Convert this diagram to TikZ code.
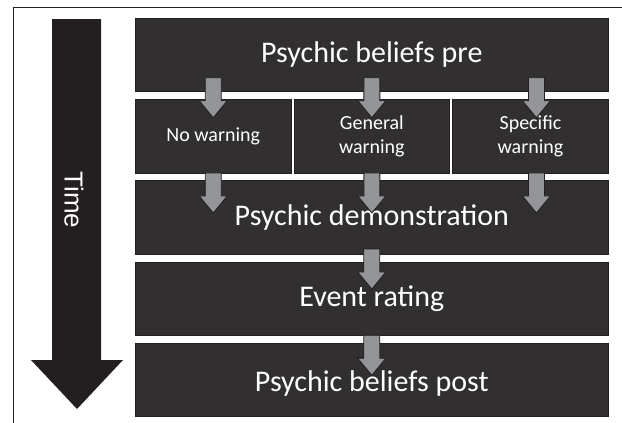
\documentclass[tikz,border=0pt]{standalone}
\usepackage{fontspec}
\setmainfont{Carlito}
\newfontfamily\timefont{Liberation Sans}
\usetikzlibrary{positioning}
\definecolor{boxfill}{RGB}{49,47,48}
\definecolor{boxline}{RGB}{35,31,32}
\definecolor{arrowgray}{RGB}{147,149,152}
\newcommand\garrow[1]{\draw[garrowstyle] #1 ++(-8,0) -- ++(0,23) -- ++(-6,0) -- ++(14,17) -- ++(14,-17) -- ++(-6,0) -- ++(0,-23) -- cycle;}

\begin{document}
\begin{tikzpicture}[x=1pt,y=-1pt,
    rowbox/.style={draw=boxline,fill=boxfill,line width=0.8pt,minimum width=473pt,minimum height=73.4pt,inner sep=0pt,outer sep=0pt,text=white,font=\fontsize{30}{36}\selectfont},
    subbox/.style={draw=boxline,fill=boxfill,line width=0.8pt,minimum width=155.9pt,minimum height=73.4pt,inner sep=0pt,outer sep=0pt,text=white,align=center,font=\fontsize{20}{24}\selectfont},
    garrowstyle/.style={draw=boxline,fill=arrowgray,line width=0.8pt}]
        \useasboundingbox (0,0) rectangle (622,423);
        % frame
        \draw[boxline,line width=0.9pt] (622,7) -- (13,7) -- (13,423);
        % time arrow
        \fill[boxline] (52,19) -- (101,19) -- (101,360) -- (123,360) -- (77,409) -- (31,360) -- (52,360) -- cycle;
        \node[text=white,rotate=-90,font=\timefont\fontsize{26}{30}\selectfont] (time) at (74,200) {Time};
        % stages
        \node[rowbox,anchor=north west] (pre) at (135.3,18.3) {Psychic beliefs pre};
        \node[subbox,below=7.85pt of pre.south west,anchor=north west] (nowarn) {No warning};
        \node[subbox,right=2.7pt of nowarn] (general) {General\\warning};
        \node[subbox,right=2.7pt of general] (specific) {Specific\\warning};
        \node[rowbox,below=7.85pt of nowarn.south west,anchor=north west] (demo) {Psychic demonstration};
        \node[rowbox,below=7.85pt of demo] (rating) {Event rating};
        \node[rowbox,below=7.85pt of rating,text height=28pt,text depth=5pt] (post) {Psychic beliefs post};
        % gray arrows
        \garrow{([yshift=14pt]pre.south -| nowarn.north)}
        \garrow{([yshift=14pt]pre.south -| general.north)}
        \garrow{([xshift=6pt,yshift=14pt]pre.south -| specific.north)}
        \garrow{(nowarn.south)}
        \garrow{(general.south)}
        \garrow{([xshift=6pt]specific.south)}
        \garrow{([yshift=13pt]rating.north)}
        \garrow{([yshift=8pt]post.north)}
    \end{tikzpicture}
\end{document}
